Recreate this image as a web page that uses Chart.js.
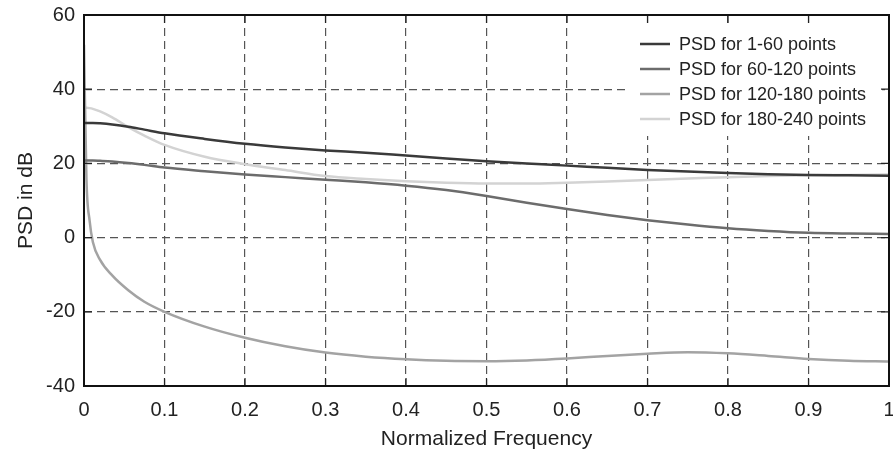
<!DOCTYPE html>
<html>
<head>
<meta charset="utf-8">
<script src="https://cdn.jsdelivr.net/npm/chart.js@4"></script>
<style>
  html, body { margin: 0; padding: 0; background: #fff; }
  #wrap { width: 893px; height: 450px; }
</style>
</head>
<body>
<div id="wrap"><canvas id="myChart" width="893" height="450"></canvas></div>
<script>
// normalized frequency samples
const freq = [0, 0.003, 0.007, 0.011, 0.02, 0.035, 0.055, 0.075, 0.1, 0.15, 0.2, 0.25, 0.3, 0.35,
  0.4, 0.45, 0.5, 0.55, 0.6, 0.65, 0.7, 0.75, 0.8, 0.85, 0.9, 0.95, 1];

const psd1to60 = [30.9, 30.9, 30.9, 30.9, 30.8, 30.5, 29.9, 29.1, 28.1, 26.6, 25.3, 24.3, 23.5, 22.9,
  22.1, 21.3, 20.6, 20.0, 19.4, 18.8, 18.2, 17.8, 17.4, 17.1, 16.9, 16.8, 16.7];
const psd60to120 = [20.8, 20.8, 20.8, 20.8, 20.7, 20.5, 20.1, 19.6, 18.9, 17.9, 17.0, 16.3, 15.6, 14.9,
  14.0, 12.8, 11.2, 9.4, 7.7, 6.1, 4.7, 3.5, 2.5, 1.8, 1.3, 1.1, 1.0];
const psd120to180 = [52, 16, 4.5, -1.2, -6, -10.2, -14.2, -17.3, -20, -24, -27, -29.3, -31, -32.1,
  -32.8, -33.2, -33.3, -33.1, -32.6, -31.9, -31.3, -30.9, -31.2, -31.9, -32.7, -33.2, -33.4];
const psd180to240 = [35, 35, 34.9, 34.7, 34, 32.4, 29.8, 27.5, 25, 21.8, 19.8, 18.2, 16.6, 15.8,
  15.2, 14.8, 14.6, 14.6, 14.8, 15.1, 15.5, 15.9, 16.3, 16.6, 16.8, 16.9, 17];

const seriesLabels = ['PSD for 1-60 points', 'PSD for 60-120 points', 'PSD for 120-180 points', 'PSD for 180-240 points'];
const seriesValues = [psd1to60, psd60to120, psd120to180, psd180to240];
const seriesColors = ['#3a3a3a', '#6c6c6c', '#a3a3a3', '#d3d3d3'];

const font = 'Liberation Sans, Arial, sans-serif';

// matlab style frame: legend box, inward ticks, full border
const framePlugin = {
  id: 'frame',
  afterDraw(chart) {
    const ctx = chart.ctx;
    const a = chart.chartArea;
    const xs = chart.scales.x, ys = chart.scales.y;
    ctx.save();

    // legend
    ctx.fillStyle = '#fff';
    ctx.fillRect(630, 27, 252, 109);
    ctx.font = '18px ' + font;
    ctx.textBaseline = 'middle';
    ctx.textAlign = 'left';
    chart.data.datasets.forEach((ds, i) => {
      const y = 44 + i * 25;
      ctx.strokeStyle = ds.borderColor;
      ctx.lineWidth = 2.5;
      ctx.beginPath();
      ctx.moveTo(640, y);
      ctx.lineTo(670, y);
      ctx.stroke();
      ctx.fillStyle = '#222';
      ctx.fillText(ds.label, 679, y + 1);
    });

    // inward ticks
    ctx.strokeStyle = '#222';
    ctx.lineWidth = 1.2;
    ctx.beginPath();
    xs.ticks.forEach(t => {
      const x = xs.getPixelForValue(t.value);
      ctx.moveTo(x, a.bottom); ctx.lineTo(x, a.bottom - 8);
      ctx.moveTo(x, a.top); ctx.lineTo(x, a.top + 8);
    });
    ys.ticks.forEach(t => {
      const y = ys.getPixelForValue(t.value);
      ctx.moveTo(a.left, y); ctx.lineTo(a.left + 8, y);
      ctx.moveTo(a.right, y); ctx.lineTo(a.right - 8, y);
    });
    ctx.stroke();

    ctx.strokeStyle = '#111';
    ctx.lineWidth = 2;
    ctx.strokeRect(a.left, a.top, a.right - a.left, a.bottom - a.top);
    ctx.restore();
  }
};

new Chart(document.getElementById('myChart'), {
  type: 'line',
  data: {
    datasets: seriesLabels.map((label, i) => ({
      label: label,
      data: freq.map((f, j) => ({ x: f, y: seriesValues[i][j] })),
      borderColor: seriesColors[i],
      borderWidth: 2.5,
      pointRadius: 0,
      fill: false,
      cubicInterpolationMode: 'monotone'
    }))
  },
  options: {
    responsive: false,
    animation: false,
    layout: { padding: { top: 15, right: 4, bottom: 0, left: 0 } },
    plugins: {
      legend: { display: false },
      tooltip: { enabled: false }
    },
    scales: {
      x: {
        type: 'linear',
        min: 0,
        max: 1,
        afterFit: s => { s.height = 64; s.paddingLeft = 0; s.paddingRight = 0; },
        ticks: {
          stepSize: 0.1,
          padding: 12,
          color: '#222',
          font: { family: font, size: 20 },
          callback: v => String(Math.round(v * 10) / 10)
        },
        grid: { color: '#555', lineWidth: 1.2, drawTicks: false },
        border: { display: false, dash: [8, 5] },
        title: {
          display: true,
          text: 'Normalized Frequency',
          color: '#222',
          font: { family: font, size: 21, lineHeight: 1 },
          padding: 0
        }
      },
      y: {
        min: -40,
        max: 60,
        afterFit: s => { s.width = 84; s.paddingTop = 0; s.paddingBottom = 0; },
        ticks: { stepSize: 20, padding: 9, color: '#222', font: { family: font, size: 20 } },
        grid: { color: '#555', lineWidth: 1.2, drawTicks: false },
        border: { display: false, dash: [8, 5] },
        title: {
          display: true,
          text: 'PSD in dB',
          color: '#222',
          font: { family: font, size: 21, lineHeight: 1 },
          padding: { top: 16, bottom: 0 }
        }
      }
    }
  },
  plugins: [framePlugin]
});
</script>
</body>
</html>
